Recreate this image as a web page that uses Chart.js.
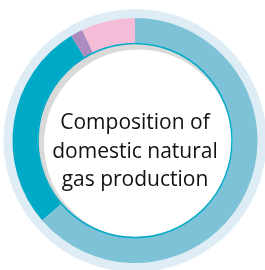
<!DOCTYPE html>
<html>
<head>
<meta charset="utf-8">
<script src="https://cdn.jsdelivr.net/npm/chart.js@4"></script>
<style>
  html, body { margin: 0; padding: 0; background: #fff; }
  #wrap { width: 265px; height: 270px; position: relative; }
</style>
</head>
<body>
<div id="wrap"><canvas id="chart"></canvas></div>
<script>
const categories = ['Segment A', 'Segment B', 'Segment C', 'Segment D']
const shares = [63.7, 27.6, 1.6, 7.1]
const colours = ['#7dc2d7', '#00a9c6', '#ab8cc1', '#f5bcd7']
const centerLines = ['Composition of', 'domestic natural', 'gas production']

// light halo behind the ring, grey inner shadow and the caption
const decor = {
  id: 'decor',
  beforeDatasetsDraw(chart) {
    const arc = chart.getDatasetMeta(0).data[0]
    const ctx = chart.ctx
    ctx.save()
    ctx.beginPath()
    ctx.arc(arc.x, arc.y, arc.outerRadius + 9, 0, Math.PI * 2)
    ctx.fillStyle = '#deedf5'
    ctx.fill()
    ctx.restore()
  },
  afterDatasetsDraw(chart) {
    const arc = chart.getDatasetMeta(0).data[0]
    const ctx = chart.ctx
    const r = arc.innerRadius
    ctx.save()
    ctx.beginPath()
    ctx.arc(arc.x, arc.y, r, 0, Math.PI * 2)
    ctx.clip()
    ctx.fillStyle = '#d9d9d9'
    ctx.fill()
    ctx.beginPath()
    ctx.arc(arc.x + 3.5, arc.y + 3.5, r - 3, 0, Math.PI * 2)
    ctx.fillStyle = '#ffffff'
    ctx.fill()
    ctx.restore()

    ctx.save()
    ctx.beginPath()
    ctx.arc(arc.x, arc.y, r - 0.5, 0, Math.PI * 2)
    ctx.strokeStyle = '#00a9c6'
    ctx.lineWidth = 1.5
    ctx.stroke()

    ctx.fillStyle = '#111111'
    ctx.font = '21px "Open Sans"'
    ctx.textAlign = 'center'
    ctx.textBaseline = 'alphabetic'
    centerLines.forEach((line, i) => {
      ctx.fillText(line, arc.x, arc.y - 11.5 + (i * 28.5))
    })
    ctx.restore()
  }
}

new Chart(document.getElementById('chart'), {
  type: 'doughnut',
  data: {
    labels: categories,
    datasets: [{
      data: shares,
      backgroundColor: colours,
      borderWidth: 0,
      hoverOffset: 0
    }]
  },
  options: {
    responsive: true,
    maintainAspectRatio: false,
    animation: false,
    cutout: '79.6%',
    layout: { padding: { left: 12.5, right: 7.5, top: 18, bottom: 7 } },
    plugins: {
      legend: { display: false },
      tooltip: { enabled: false }
    }
  },
  plugins: [decor]
})
</script>
</body>
</html>
